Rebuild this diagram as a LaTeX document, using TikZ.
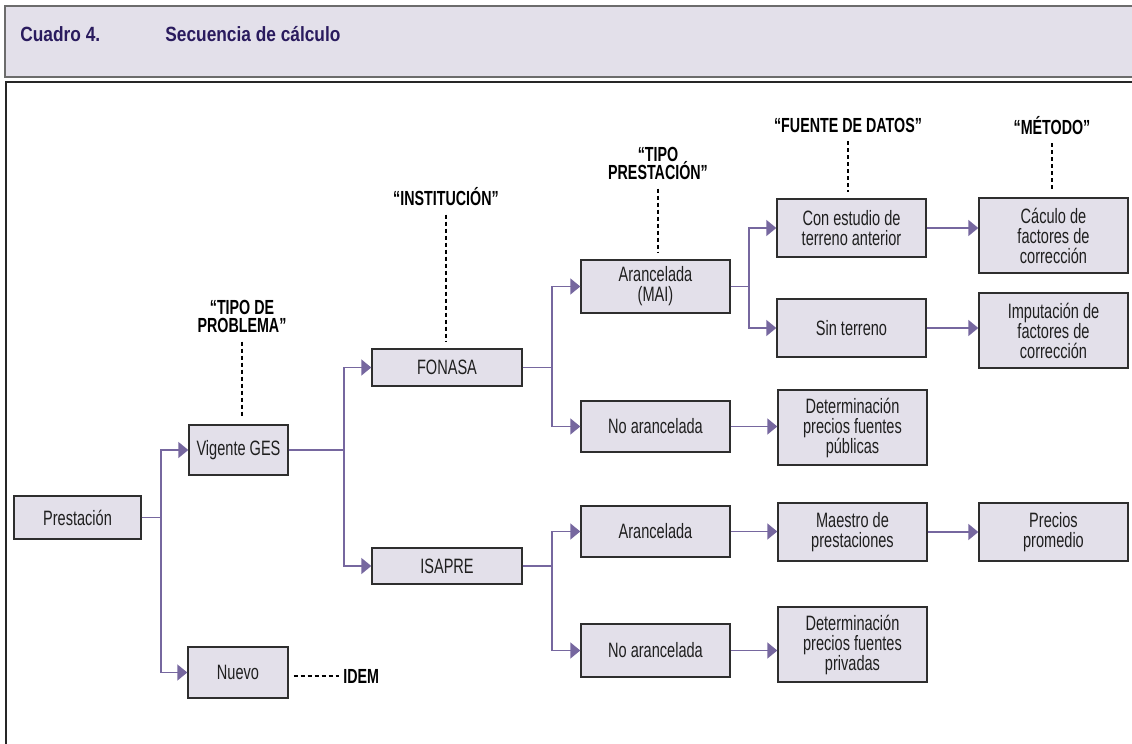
\documentclass[tikz,border=0pt]{standalone}
\usepackage{fontspec}
\setmainfont{Liberation Sans}[FakeStretch=0.70]
\newfontfamily\titlefont{Liberation Sans}[FakeStretch=0.84]
\usepackage{xcolor}
\usetikzlibrary{arrows.meta}

\definecolor{boxfill}{HTML}{E3E0EA}
\definecolor{boxline}{HTML}{2E2E2E}
\definecolor{linkcol}{HTML}{76679F}
\definecolor{titlecol}{HTML}{2A1B5E}

\begin{document}
\begin{tikzpicture}[x=0.5pt,y=-0.5pt,
    box/.style={rectangle, draw=boxline, fill=boxfill, line width=0.7pt,
        align=center, inner sep=0pt, text=black!88,
        font=\fontsize{10.4}{10}\selectfont},
    boxsize/.style 2 args={minimum width=#1*0.5pt, minimum height=#2*0.5pt},
    link/.style={draw=linkcol, line width=0.8pt,
        -{Triangle[length=5pt,width=8pt,fill=linkcol]}},
    guide/.style={dash pattern=on 2pt off 1.5pt, line width=0.7pt,
        shorten <=4pt, shorten >=3pt},
    lbl/.style={align=center, inner sep=0pt,
        font=\bfseries\fontsize{10.2}{9.4}\selectfont}]

    \useasboundingbox (0,0) rectangle (1132,744);
    \clip (0,0) rectangle (1132,744);

    % header and frame
    \draw[draw=gray!85!black, fill=boxfill, line width=0.8pt] (5,6) rectangle (1140,77);
    \draw[black!85, line width=0.8pt] (1140,82) -- (6,82) -- (6,750);
    \node[anchor=west, inner sep=0pt, text=titlecol,
        font=\titlefont\bfseries\fontsize{10.3}{10}\selectfont] (cuadro) at (20,34) {Cuadro 4.};
    \node[anchor=west, inner sep=0pt, text=titlecol,
        font=\titlefont\bfseries\fontsize{10.3}{10}\selectfont] (titulo) at (165,34) {Secuencia de cálculo};

    % boxes
    \node[box, boxsize={127}{43}] (prest) at (77.5,517.5) {Prestación};
    \node[box, boxsize={99}{50}] (ges) at (238.5,450) {Vigente GES};
    \node[box, boxsize={100}{51}] (nuevo) at (238,672.5) {Nuevo};
    \node[box, boxsize={150}{37}] (fonasa) at (447,367.5) {FONASA};
    \node[box, boxsize={150}{36}] (isapre) at (447,566) {ISAPRE};
    \node[box, boxsize={149}{53}] (aranmai) at (655.5,286.5) {Arancelada\\(MAI)};
    \node[box, boxsize={149}{51}] (noaranf) at (655.5,426.5) {No arancelada};
    \node[box, boxsize={149}{51}] (aranisa) at (655.5,531.5) {Arancelada};
    \node[box, boxsize={149}{53}] (noarani) at (655.5,650.5) {No arancelada};
    \node[box, boxsize={149}{58}] (conest) at (851.5,228) {Con estudio de\\terreno anterior};
    \node[box, boxsize={149}{58}] (sinter) at (851.5,328) {Sin terreno};
    \node[box, boxsize={149}{75}] (detpub) at (852.5,427.5) {Determinación\\precios fuentes\\públicas};
    \node[box, boxsize={149}{58}] (maestro) at (852.5,532) {Maestro de\\prestaciones};
    \node[box, boxsize={149}{75}] (detpri) at (852.5,644.5) {Determinación\\precios fuentes\\privadas};
    \node[box, boxsize={149}{75}] (calculo) at (1053.5,235.5) {Cáculo de\\factores de\\corrección};
    \node[box, boxsize={149}{75}] (imput) at (1053.5,330.5) {Imputación de\\factores de\\corrección};
    \node[box, boxsize={149}{58}] (precios) at (1053.5,532) {Precios\\promedio};

    % level labels
    \node[lbl] (lblprob) at (242,316.5) {“TIPO DE\\PROBLEMA”};
    \node[lbl] (lblinst) at (446,197) {“INSTITUCIÓN”};
    \node[lbl] (lbltipo) at (658,163.5) {“TIPO\\PRESTACIÓN”};
    \node[lbl] (lblfuente) at (848,125.5) {“FUENTE DE DATOS”};
    \node[lbl] (lblmetodo) at (1052,125.5) {“MÉTODO”};
    \node[lbl, anchor=west] (idem) at (343,676) {IDEM};

    \draw[guide] (lblprob.south) -- (lblprob.south |- ges.north);
    \draw[guide] (lblinst.south) -- (lblinst.south |- fonasa.north);
    \draw[guide] (lbltipo.south) -- (lbltipo.south |- aranmai.north);
    \draw[guide] (lblfuente.south) -- (lblfuente.south |- conest.north);
    \draw[guide] (lblmetodo.south) -- (lblmetodo.south |- calculo.north);
    \draw[guide, shorten <=2.5pt, shorten >=2pt] (idem.west -| nuevo.east) -- (idem.west);

    % connectors
    \draw[link] (prest.east) -- ++(19,0) |- (ges.west);
    \draw[link] (prest.east) -- ++(19,0) |- (nuevo.west);
    \draw[link] (ges.east) -- ++(55,0) |- (fonasa.west);
    \draw[link] (ges.east) -- ++(55,0) |- (isapre.west);
    \draw[link] (fonasa.east) -- ++(29,0) |- (aranmai.west);
    \draw[link] (fonasa.east) -- ++(29,0) |- (noaranf.west);
    \draw[link] (isapre.east) -- ++(29,0) |- (aranisa.west);
    \draw[link] (isapre.east) -- ++(29,0) |- (noarani.west);
    \draw[link] (aranmai.east) -- ++(18,0) |- (conest.west);
    \draw[link] (aranmai.east) -- ++(18,0) |- (sinter.west);
    \draw[link] (conest.east) -- (conest.east -| calculo.west);
    \draw[link] (sinter.east) -- (sinter.east -| imput.west);
    \draw[link] (noaranf.east) -- (noaranf.east -| detpub.west);
    \draw[link] (aranisa.east) -- (aranisa.east -| maestro.west);
    \draw[link] (maestro.east) -- (maestro.east -| precios.west);
    \draw[link] (noarani.east) -- (noarani.east -| detpri.west);
\end{tikzpicture}
\end{document}
